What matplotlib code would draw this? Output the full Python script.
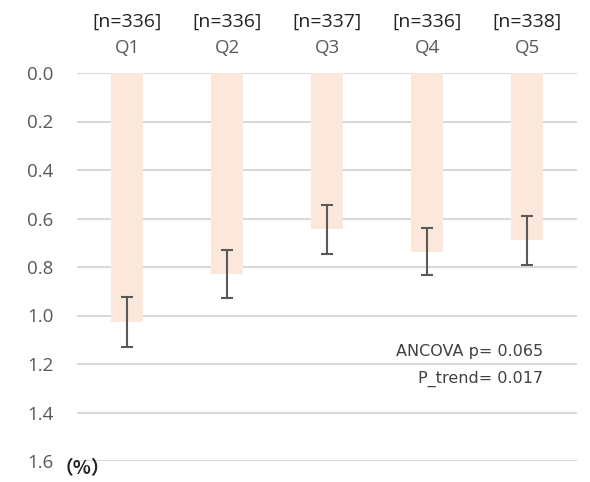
import matplotlib.pyplot as plt

groups = ["Q1", "Q2", "Q3", "Q4", "Q5"]
n_labels = ["[n=336]", "[n=336]", "[n=337]", "[n=336]", "[n=338]"]
means = [1.025, 0.828, 0.645, 0.737, 0.690]
errors = [0.103, 0.098, 0.100, 0.098, 0.100]

fig = plt.figure(figsize=(5.9, 4.82), dpi=100)
ax = fig.add_axes([77 / 590, 1 - 461 / 482, 500 / 590, 388 / 482])

x = list(range(len(groups)))
ax.bar(x, means, width=0.32, color="#fce8da", zorder=2)
ax.errorbar(x, means, yerr=errors, fmt="none", ecolor="#595959",
            elinewidth=1.5, capsize=4, capthick=1.5, zorder=3)

ax.set_xlim(-0.5, 4.5)
ax.set_ylim(1.6, 0.0)
ax.set_yticks([0.0, 0.2, 0.4, 0.6, 0.8, 1.0, 1.2, 1.4, 1.6])
ax.set_yticklabels([f"{v:.1f}" for v in ax.get_yticks()], fontsize=13.5,
                   color="#595959", family="Open Sans")
ax.yaxis.grid(True, color="#d9d9d9", linewidth=1.5, zorder=0)
ax.tick_params(axis="y", length=0, pad=17)
ax.xaxis.tick_top()
ax.set_xticks(x)
ax.set_xticklabels([""] * len(groups))
ax.tick_params(axis="x", length=0)
for s in ax.spines.values():
    s.set_visible(False)

for i in x:
    ax.annotate(groups[i], (i, 0), xytext=(0, 18), textcoords="offset points",
                ha="center", va="center", fontsize=13.5, color="#595959",
                family="Open Sans", annotation_clip=False)
    ax.annotate(n_labels[i], (i, 0), xytext=(0, 37), textcoords="offset points",
                ha="center", va="center", fontsize=14, color="#222222",
                family="Open Sans", annotation_clip=False)

ax.text(4.16, 1.148, "ANCOVA p= 0.065", ha="right", va="center",
        fontsize=11.5, color="#404040", family="DejaVu Sans")
ax.text(4.16, 1.26, "P_trend= 0.017", ha="right", va="center",
        fontsize=11.5, color="#404040", family="DejaVu Sans")

fig.text(55 / 590, 1 - 469 / 482, "（%）", ha="left", va="center", fontsize=13.5,
         color="#222222", family=["Noto Sans CJK JP", "DejaVu Sans"], weight="bold")

fig.savefig("out.png", dpi=100)
